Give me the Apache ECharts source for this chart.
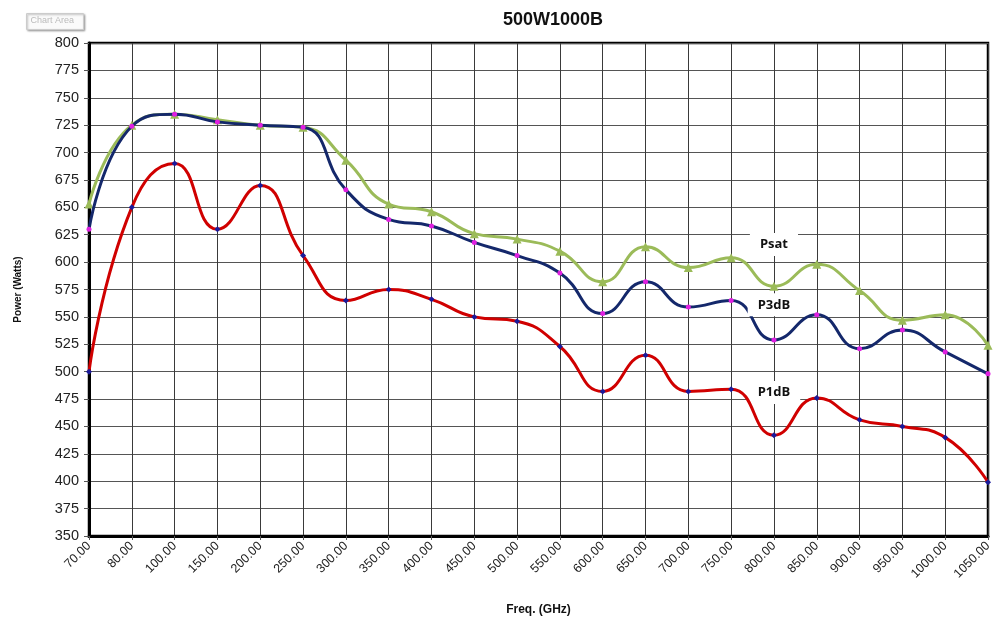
<!DOCTYPE html>
<html>
<head>
<meta charset="utf-8">
<script src="https://cdn.jsdelivr.net/npm/echarts@6/dist/echarts.min.js"></script>
<style>html,body{margin:0;padding:0;background:#fff}#c{width:998px;height:624px}</style>
</head>
<body>
<div id="c"></div>
<script>
const categories = ['70.00','80.00','100.00','150.00','200.00','250.00','300.00','350.00','400.00','450.00','500.00','550.00','600.00','650.00','700.00','750.00','800.00','850.00','900.00','950.00','1000.00','1050.00'];
const psat = [653,725,735,730,725,723,693,653,646,626,621,610,582,614,595,604,578,598,574,547,552,524];
const p3db = [630,724,735,728,725,723,666,639,633,618,606,590,553,582,559,565,529,552,521,538,518,498];
const p1db = [500,650,690,630,670,606,565,575,566,550,546,523,482,515,482,484,442,476,456,450,440,399];
const yTicks = {min:350, max:800, interval:25};
const seriesLabels = [
  {name:'Psat', at:'800.00', y:616},
  {name:'P3dB', at:'800.00', y:561},
  {name:'P1dB', at:'800.00', y:481}
];

const chart = echarts.init(document.getElementById('c'));
const font = '"Liberation Sans", Arial, sans-serif';
function lbl(i){
  const l = seriesLabels[i];
  return {
    symbol:'rect', symbolSize:1, itemStyle:{color:'rgba(0,0,0,0)'},
    label:{show:true, position:'inside', formatter:l.name, fontFamily:'"Open Sans", sans-serif', fontWeight:'bold', fontSize:13, color:'#111', backgroundColor:'#fff', padding:[5,10]},
    data:[{coord:[l.at, l.y]}]
  };
}
chart.setOption({
  animation:false,
  title:{text:'500W1000B', left:548, textAlign:'center', top:6, textStyle:{fontFamily:font, fontWeight:'bold', fontSize:18, color:'#111'}},
  grid:{left:89, right:10, top:43, bottom:88, show:true, borderColor:'#000', borderWidth:2.5, backgroundColor:'#fff'},
  xAxis:{
    type:'category', data:categories, boundaryGap:false,
    name:'Freq. (GHz)', nameLocation:'middle', nameGap:68,
    nameTextStyle:{fontFamily:font, fontWeight:'bold', fontSize:12, color:'#111'},
    axisLine:{lineStyle:{color:'#000', width:3}},
    axisTick:{show:true, length:4, lineStyle:{color:'#555'}},
    axisLabel:{rotate:45, fontFamily:font, fontSize:12.5, color:'#222', margin:8},
    splitLine:{show:true, lineStyle:{color:'#3a3a3a', width:1}}
  },
  yAxis:{
    type:'value', min:yTicks.min, max:yTicks.max, interval:yTicks.interval,
    name:'Power (Watts)', nameLocation:'middle', nameGap:66,
    nameTextStyle:{fontFamily:font, fontWeight:'bold', fontSize:10, color:'#111'},
    axisLine:{show:true, lineStyle:{color:'#000', width:3}},
    axisTick:{show:true, length:5, lineStyle:{color:'#555'}},
    axisLabel:{fontFamily:font, fontSize:14.5, color:'#222', margin:10},
    splitLine:{show:true, lineStyle:{color:'#555', width:1.2}}
  },
  graphic:[{
    type:'group', left:26, top:13,
    children:[
      {type:'rect', shape:{x:0,y:0,width:57,height:16}, style:{fill:'#fafafa', stroke:'#ccc', lineWidth:1, shadowBlur:2, shadowOffsetX:1, shadowOffsetY:1, shadowColor:'rgba(0,0,0,0.3)'}},
      {type:'text', left:4, top:3, style:{text:'Chart Area', fontFamily:font, fontSize:9, fill:'#bbb'}}
    ]
  }],
  series:[
    {name:'Psat', type:'line', data:psat, smooth:0.5, symbol:'triangle', symbolSize:9,
     lineStyle:{color:'#9BBB59', width:3}, itemStyle:{color:'#9BBB59'}, z:3, markPoint:lbl(0)},
    {name:'P3dB', type:'line', data:p3db, smooth:0.5, symbol:'circle', symbolSize:5,
     lineStyle:{color:'#14286B', width:3}, itemStyle:{color:'#E020E0'}, z:4, markPoint:lbl(1)},
    {name:'P1dB', type:'line', data:p1db, smooth:0.5, symbol:'diamond', symbolSize:6,
     lineStyle:{color:'#D00000', width:3}, itemStyle:{color:'#1A1A9A'}, z:5, markPoint:lbl(2)}
  ]
});
</script>
</body>
</html>
